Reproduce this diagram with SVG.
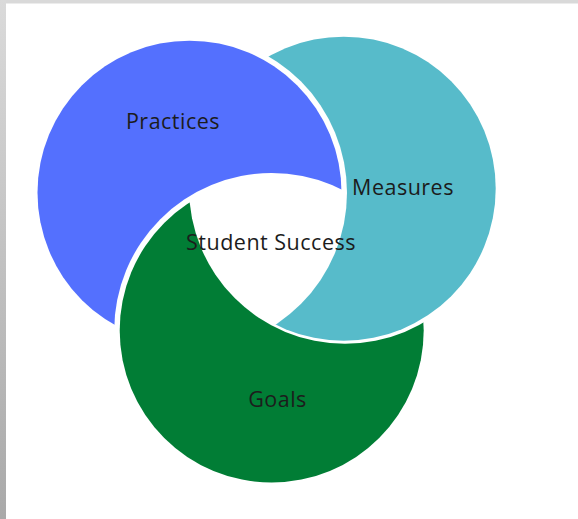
<svg xmlns="http://www.w3.org/2000/svg" width="578" height="519" viewBox="0 0 578 519">
  <style>
    .lbl { font-family: "Open Sans", "Noto Sans", "Liberation Sans", sans-serif; font-size: 21.5px; letter-spacing: 0.5px; fill: #1c1c1c; text-anchor: middle; }
  </style>
  <defs>
    <linearGradient id="leftbar" x1="0" y1="0" x2="0" y2="1">
      <stop offset="0" stop-color="#dadada"/>
      <stop offset="1" stop-color="#a9a9a9"/>
    </linearGradient>
    <mask id="mBlue" maskUnits="userSpaceOnUse" x="0" y="0" width="578" height="519">
      <rect x="0" y="0" width="578" height="519" fill="#fff"/>
      <circle cx="271.7" cy="330.5" r="157.5" fill="#000"/>
    </mask>
    <mask id="mTeal" maskUnits="userSpaceOnUse" x="0" y="0" width="578" height="519">
      <rect x="0" y="0" width="578" height="519" fill="#fff"/>
      <circle cx="189.5" cy="192.7" r="157.5" fill="#000"/>
    </mask>
    <mask id="mGreen" maskUnits="userSpaceOnUse" x="0" y="0" width="578" height="519">
      <rect x="0" y="0" width="578" height="519" fill="#fff"/>
      <circle cx="345" cy="187.8" r="156" fill="#000"/>
    </mask>
  </defs>
  <rect x="0" y="0" width="578" height="519" fill="#ffffff"/>
  <rect x="0" y="0" width="578" height="3.5" fill="#d9d9d9"/>
  <rect x="0" y="0" width="6" height="519" fill="url(#leftbar)"/>

  <g id="practices">
    <circle cx="189.5" cy="192.7" r="152" fill="#5470fe" mask="url(#mBlue)"/>
    <text class="lbl" x="173" y="129">Practices</text>
  </g>
  <g id="measures">
    <circle cx="343.7" cy="188.7" r="152" fill="#57bbca" mask="url(#mTeal)"/>
    <text class="lbl" x="403" y="194.5">Measures</text>
  </g>
  <g id="goals">
    <circle cx="271.7" cy="330.5" r="152" fill="#017d35" mask="url(#mGreen)"/>
    <text class="lbl" x="277.5" y="406.5">Goals</text>
  </g>
  <g id="student-success">
    <text class="lbl" x="271" y="249.5">Student Success</text>
  </g>
  <g id="connectors"/>
</svg>
